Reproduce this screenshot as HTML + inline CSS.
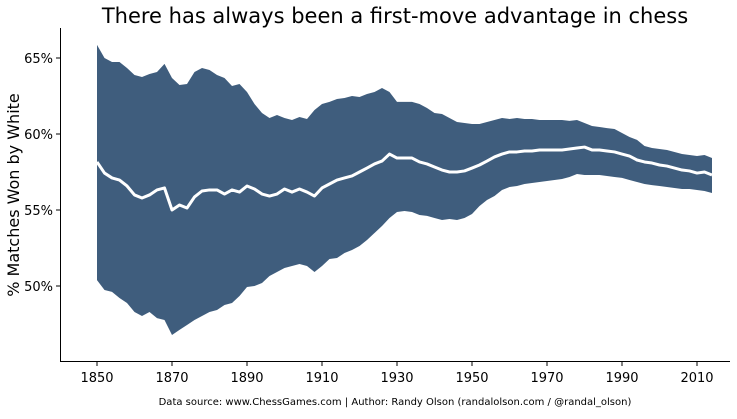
<!DOCTYPE html>
<html><head><meta charset="utf-8"><style>
body{margin:0;background:#fff;}
svg text{font-family:"DejaVu Sans","Liberation Sans",sans-serif;fill:#000;}
</style></head><body>
<svg id="chart" width="737" height="414" viewBox="0 0 737 414">
<text x="395" y="23" font-size="21" text-anchor="middle">There has always been a first-move advantage in chess</text>
<g id="plot"></g>
<line x1="60.5" y1="28" x2="60.5" y2="362" stroke="#000" stroke-width="1"/>
<line x1="60" y1="361.5" x2="730" y2="361.5" stroke="#000" stroke-width="1"/>
<text transform="translate(19,195) rotate(-90)" font-size="16" text-anchor="middle">% Matches Won by White</text>
<text x="395" y="405" font-size="10" text-anchor="middle">Data source: www.ChessGames.com | Author: Randy Olson (randalolson.com / @randal_olson)</text>
</svg>
<script>
const startYear = 1850, stepYears = 2;
const meanPct = [58.16,57.43,57.11,56.97,56.58,55.99,55.79,55.99,56.32,56.45,
55.0,55.33,55.13,55.86,56.25,56.32,56.32,56.05,56.32,56.18,
56.58,56.38,56.05,55.92,56.05,56.38,56.18,56.38,56.18,55.92,
56.45,56.71,56.97,57.11,57.24,57.5,57.76,58.03,58.22,58.68,
58.42,58.42,58.42,58.16,58.03,57.83,57.63,57.5,57.5,57.57,
57.76,57.96,58.22,58.49,58.68,58.82,58.82,58.88,58.88,58.95,
58.95,58.95,58.95,59.01,59.08,59.14,58.95,58.95,58.88,58.82,
58.68,58.55,58.29,58.16,58.09,57.96,57.89,57.76,57.63,57.57,
57.43,57.5,57.3];
const upperPct = [65.86,65.0,64.74,64.74,64.34,63.88,63.75,63.95,64.08,64.61,
63.68,63.22,63.29,64.08,64.34,64.21,63.88,63.68,63.16,63.29,
62.76,61.97,61.38,61.05,61.25,61.05,60.92,61.12,60.99,61.58,
61.97,62.11,62.3,62.37,62.5,62.43,62.63,62.76,63.03,62.76,
62.11,62.11,62.11,61.97,61.71,61.38,61.32,61.05,60.79,60.72,
60.66,60.66,60.79,60.92,61.05,60.99,61.05,60.99,60.99,60.92,
60.92,60.92,60.92,60.86,60.92,60.72,60.53,60.46,60.39,60.33,
60.07,59.8,59.61,59.21,59.08,59.01,58.95,58.82,58.68,58.62,
58.55,58.62,58.42];
const lowerPct = [50.39,49.74,49.61,49.21,48.88,48.29,48.03,48.29,47.89,47.76,
46.78,47.11,47.43,47.76,48.03,48.29,48.42,48.75,48.88,49.34,
49.93,50.0,50.2,50.66,50.92,51.18,51.32,51.45,51.32,50.92,
51.32,51.78,51.84,52.17,52.37,52.63,53.03,53.49,53.95,54.47,
54.87,54.93,54.87,54.67,54.61,54.47,54.34,54.41,54.34,54.47,
54.74,55.26,55.66,55.92,56.32,56.51,56.58,56.71,56.78,56.84,
56.91,56.97,57.04,57.17,57.37,57.3,57.3,57.3,57.24,57.17,
57.11,56.97,56.84,56.71,56.64,56.58,56.51,56.45,56.38,56.38,
56.32,56.25,56.12];
const xTicks = [1850,1870,1890,1910,1930,1950,1970,1990,2010];
const yTicks = [50,55,60,65];
const yTickLabels = ["50%","55%","60%","65%"];

const NS = "http://www.w3.org/2000/svg";
const xScale = yr => 97 + (yr - 1850) * 3.75;
const yScale = v => 58 + (65 - v) * 15.2;
const g = document.getElementById('plot');
const years = meanPct.map((_, i) => startYear + i * stepYears);

let d = "";
upperPct.forEach((v, i) => { d += (i ? "L" : "M") + xScale(years[i]).toFixed(2) + "," + yScale(v).toFixed(2); });
for (let i = lowerPct.length - 1; i >= 0; i--) d += "L" + xScale(years[i]).toFixed(2) + "," + yScale(lowerPct[i]).toFixed(2);
d += "Z";
const band = document.createElementNS(NS, 'path');
band.setAttribute('d', d);
band.setAttribute('fill', '#3f5d7d');


g.appendChild(band);

let m = "";
meanPct.forEach((v, i) => { m += (i ? "L" : "M") + xScale(years[i]).toFixed(2) + "," + yScale(v).toFixed(2); });
const line = document.createElementNS(NS, 'path');
line.setAttribute('d', m);
line.setAttribute('fill', 'none');
line.setAttribute('stroke', '#fff');
line.setAttribute('stroke-width', '3');
line.setAttribute('stroke-linejoin', 'round');


g.appendChild(line);

xTicks.forEach(t => {
  const x = xScale(t);
  const tk = document.createElementNS(NS, 'line');
  tk.setAttribute('x1', x); tk.setAttribute('x2', x);
  tk.setAttribute('y1', 362); tk.setAttribute('y2', 366);
  tk.setAttribute('stroke', '#000');
  
  
  g.appendChild(tk);
  const tx = document.createElementNS(NS, 'text');
  tx.setAttribute('x', x); tx.setAttribute('y', 382);
  tx.setAttribute('font-size', '13'); tx.setAttribute('text-anchor', 'middle');
  tx.textContent = t;
  
  
  g.appendChild(tx);
});
yTicks.forEach((t, i) => {
  const y = yScale(t);
  const tk = document.createElementNS(NS, 'line');
  tk.setAttribute('x1', 56); tk.setAttribute('x2', 60);
  tk.setAttribute('y1', y); tk.setAttribute('y2', y);
  tk.setAttribute('stroke', '#000');
  
  
  g.appendChild(tk);
  const tx = document.createElementNS(NS, 'text');
  tx.setAttribute('x', 53); tx.setAttribute('y', y + 5);
  tx.setAttribute('font-size', '13'); tx.setAttribute('text-anchor', 'end');
  tx.textContent = yTickLabels[i];
  
  
  g.appendChild(tx);
});
</script>
</body></html>
